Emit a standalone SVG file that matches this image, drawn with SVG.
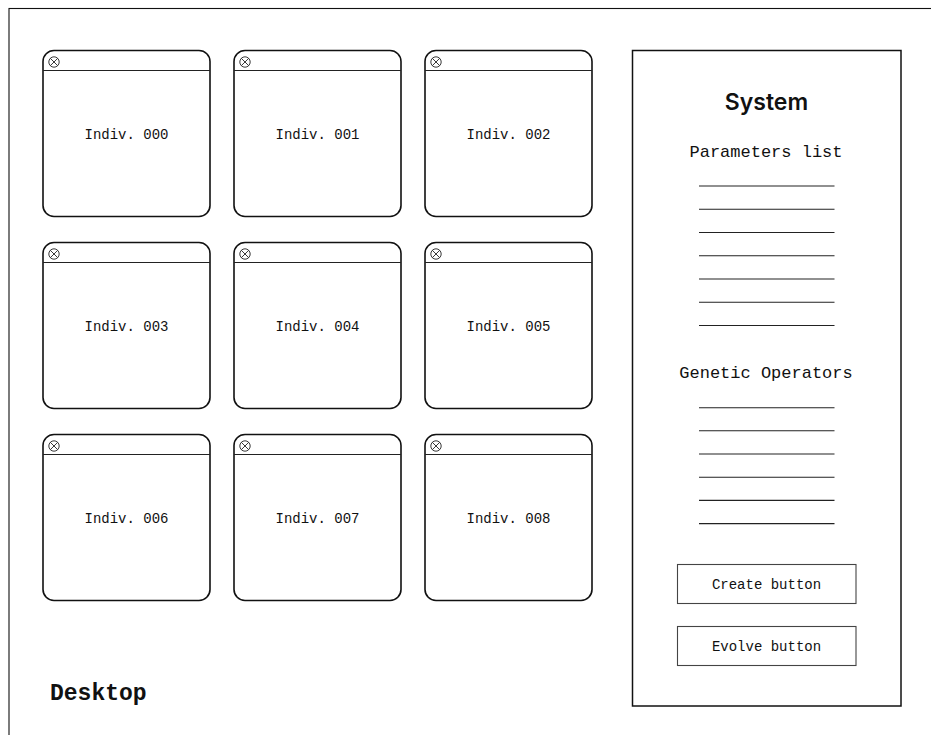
<svg xmlns="http://www.w3.org/2000/svg" width="931" height="735" viewBox="0 0 931 735">
  <style>
    .win { fill: #fff; stroke: #111; stroke-width: 1.6; }
    .bar { stroke: #222; stroke-width: 1.1; }
    .ico { fill: none; stroke: #222; stroke-width: 0.9; }
    .lbl { font-family: "Liberation Mono", "DejaVu Sans Mono", monospace; font-size: 14px; fill: #111; text-anchor: middle; }
    .sub { font-family: "Liberation Mono", "DejaVu Sans Mono", monospace; font-size: 17px; fill: #111; text-anchor: middle; }
    .rule { stroke: #222; stroke-width: 1.1; }
    .btn { fill: #fff; stroke: #444; stroke-width: 1.1; }
  </style>
  <defs>
    <!-- one individual window: 167 x 166 with title bar and close icon -->
    <g id="window">
      <rect class="win" x="0" y="0" width="167" height="166" rx="11" ry="11"/>
      <line class="bar" x1="0" y1="20" x2="167" y2="20"/>
      <circle class="ico" cx="11" cy="11.5" r="5.2"/>
      <line class="ico" x1="7.3" y1="7.8" x2="14.7" y2="15.2"/>
      <line class="ico" x1="14.7" y1="7.8" x2="7.3" y2="15.2"/>
    </g>
  </defs>

  <rect x="0" y="0" width="931" height="735" fill="#fff"/>

  <!-- desktop frame -->
  <g id="desktop">
    <rect x="9" y="8.5" width="940" height="740" fill="none" stroke="#111" stroke-width="1.1"/>
    <text x="50" y="700" font-family="Liberation Mono, DejaVu Sans Mono, monospace" font-size="23" font-weight="bold" fill="#111">Desktop</text>
  </g>

  <!-- individuals grid -->
  <g id="indiv-000"><use href="#window" x="43" y="50.5"/><text class="lbl" x="126.5" y="139">Indiv. 000</text></g>
  <g id="indiv-001"><use href="#window" x="234" y="50.5"/><text class="lbl" x="317.5" y="139">Indiv. 001</text></g>
  <g id="indiv-002"><use href="#window" x="425" y="50.5"/><text class="lbl" x="508.5" y="139">Indiv. 002</text></g>

  <g id="indiv-003"><use href="#window" x="43" y="242.5"/><text class="lbl" x="126.5" y="331">Indiv. 003</text></g>
  <g id="indiv-004"><use href="#window" x="234" y="242.5"/><text class="lbl" x="317.5" y="331">Indiv. 004</text></g>
  <g id="indiv-005"><use href="#window" x="425" y="242.5"/><text class="lbl" x="508.5" y="331">Indiv. 005</text></g>

  <g id="indiv-006"><use href="#window" x="43" y="434.5"/><text class="lbl" x="126.5" y="523">Indiv. 006</text></g>
  <g id="indiv-007"><use href="#window" x="234" y="434.5"/><text class="lbl" x="317.5" y="523">Indiv. 007</text></g>
  <g id="indiv-008"><use href="#window" x="425" y="434.5"/><text class="lbl" x="508.5" y="523">Indiv. 008</text></g>

  <!-- system panel -->
  <g id="system">
    <rect x="632.5" y="50.5" width="268.5" height="655.5" fill="#fff" stroke="#111" stroke-width="1.5"/>
    <text x="766.5" y="110" font-family="Inter, Liberation Sans, sans-serif" font-size="23" font-weight="600" fill="#111" text-anchor="middle">System</text>

    <text class="sub" x="766" y="157">Parameters list</text>
    <g id="parameters">
      <line class="rule" x1="699" y1="186" x2="834.5" y2="186"/>
      <line class="rule" x1="699" y1="209.3" x2="834.5" y2="209.3"/>
      <line class="rule" x1="699" y1="232.5" x2="834.5" y2="232.5"/>
      <line class="rule" x1="699" y1="255.8" x2="834.5" y2="255.8"/>
      <line class="rule" x1="699" y1="279" x2="834.5" y2="279"/>
      <line class="rule" x1="699" y1="302.3" x2="834.5" y2="302.3"/>
      <line class="rule" x1="699" y1="325.5" x2="834.5" y2="325.5"/>
    </g>

    <text class="sub" x="766" y="378">Genetic Operators</text>
    <g id="operators">
      <line class="rule" x1="699" y1="407.7" x2="834.5" y2="407.7"/>
      <line class="rule" x1="699" y1="430.8" x2="834.5" y2="430.8"/>
      <line class="rule" x1="699" y1="454" x2="834.5" y2="454"/>
      <line class="rule" x1="699" y1="477.2" x2="834.5" y2="477.2"/>
      <line class="rule" x1="699" y1="500.4" x2="834.5" y2="500.4"/>
      <line class="rule" x1="699" y1="523.6" x2="834.5" y2="523.6"/>
    </g>

    <g id="create-button">
      <rect class="btn" x="677.5" y="564.5" width="178.5" height="39"/>
      <text class="lbl" x="766.5" y="589">Create button</text>
    </g>
    <g id="evolve-button">
      <rect class="btn" x="677.5" y="626.5" width="178.5" height="39"/>
      <text class="lbl" x="766.5" y="651">Evolve button</text>
    </g>
  </g>
</svg>
